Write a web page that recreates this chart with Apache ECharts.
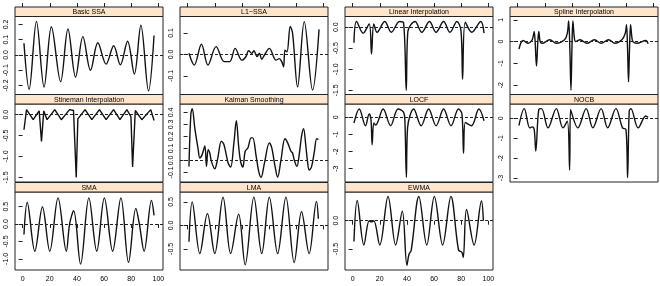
<!DOCTYPE html>
<html>
  <head>
    <meta charset="utf-8">
    <title>imputation panels</title>
    <script src="https://cdn.jsdelivr.net/npm/echarts@6/dist/echarts.min.js"></script>
    <style>
      html, body { margin: 0; padding: 0; background: #fff; }
    </style>
  </head>
  <body>
    <div id="chart" style="width: 660px; height: 286px;"></div>
    <script type="text/javascript">
      // panel titles, in lattice as.table order
      var panelNames = [
        'Basic SSA', 'L1\u2212SSA', 'Linear Interpolation', 'Spline Interpolation',
        'Stineman Interpolation', 'Kalman Smoothing', 'LOCF', 'NOCB',
        'SMA', 'LMA', 'EWMA'
      ];

      // values, [x, y]
      var basicSSA = [[1,0.077],[4.8,-0.225],[10.2,0.22],[15.8,-0.21],[21.2,0.185],[28,-0.175],[33.4,0.17],[39,-0.145],[44.4,0.12],[50,-0.1],[55.4,0.08],[61.5,-0.06],[67.1,0.06],[72,-0.065],[77.3,0.09],[82.3,-0.125],[87.1,0.195],[92.7,-0.235],[96.8,0.128]];
      var l1SSA = [[1,0.005],[4.9,-0.05],[10.2,0.047],[15,-0.05],[21,0.036],[27,-0.034],[31,-0.034],[35,0.028],[40,-0.027],[43,-0.01],[44.9,0.017],[47.3,0.005],[48.8,0.017],[51.2,-0.01],[52.9,0.005],[54.6,-0.023],[56.6,-0.003],[60.2,0.028],[65.1,-0.027],[67.5,-0.02],[69.3,-0.034],[70.7,-0.058],[71.7,0.02],[73.2,0.012],[75.6,0.13],[77.3,0.1],[81,-0.152],[85.9,0.153],[92,-0.167],[96.8,0.117]];
      var linearInterp = [[1,-0.37],[2.9,0.135],[7.8,-0.14],[12.2,0.08],[13.9,-0.64],[15.6,0.08],[18,-0.12],[23.7,0.135],[28.5,-0.12],[34.6,0.135],[37.5,0.11],[39.5,-1.5],[40.7,-0.1],[46,0.135],[51,-0.12],[56.6,0.135],[61.5,-0.12],[67,0.135],[71.7,-0.12],[76.8,0.135],[79.8,-0.08],[81,-1.24],[83,0.12],[87.8,-0.12],[94.4,0.135],[96.8,-0.14]];
      var splineInterp = [[1,-0.35],[2.5,-0.05],[4,0.05],[7.8,-0.08],[10.5,0.05],[11.5,0.25],[12.2,0.46],[12.9,0.0],[13.9,-1.12],[14.9,0.0],[15.6,0.46],[16.6,0.0],[18,-0.08],[23.7,0.08],[28.5,-0.08],[34.6,0.08],[36.6,0.38],[37.6,0.95],[38.5,-0.38],[39.3,-2.23],[40,-0.38],[40.7,0.95],[41.7,0.23],[42.7,0.0],[46,0.08],[51,-0.08],[56.6,0.08],[61.5,-0.08],[67,0.08],[71.7,-0.08],[76.8,0.08],[79.3,0.38],[80.2,0.77],[81,-0.38],[81.7,-1.85],[82.4,-0.38],[83.2,0.77],[84.1,0.23],[84.9,0.0],[87.8,-0.08],[94.4,0.05],[96.1,-0.1]];
      var stinemanInterp = [[1,-0.36],[2.9,0.12],[7.8,-0.12],[12.2,0.09],[13.9,-0.64],[15.6,0.09],[18,-0.12],[23.7,0.12],[28.5,-0.12],[34.6,0.12],[37.5,0.1],[39.5,-1.5],[40.7,-0.1],[46,0.12],[51,-0.12],[56.6,0.12],[61.5,-0.12],[67,0.12],[71.7,-0.12],[76.8,0.12],[79.8,-0.05],[81,-1.25],[83,0.1],[87.8,-0.12],[94.4,0.12],[96.8,-0.14]];
      var kalmanSmooth = [[1,-0.05],[2.4,0.385],[3.4,0.43],[5.4,0.26],[7.8,0.09],[9,0.02],[10.7,0.048],[12.7,0.12],[13.9,-0.05],[15.1,0.09],[16.3,0.062],[17.6,-0.01],[20,-0.07],[22,0.006],[24.9,0.16],[26.8,0.13],[29.8,-0.02],[31.7,-0.056],[34.1,0.146],[35.9,0.33],[37.6,0.118],[39,-0.008],[40.7,-0.056],[42.4,0.076],[44.4,0.104],[46.8,0.188],[48,0.188],[50.5,0.034],[52.4,-0.093],[54.1,-0.14],[56.6,-0.022],[60.2,0.146],[62,0.104],[64.4,-0.05],[66.3,-0.14],[68.8,0.006],[71.7,0.18],[73.7,0.146],[76.1,0.076],[77.3,0.062],[78.5,0.006],[80.5,-0.05],[82.2,0.048],[83.9,0.2],[85.4,0.264],[87.1,0.118],[88.3,-0.008],[89.5,-0.08],[91.2,-0.056],[93.2,0.062],[95.1,0.18],[96.3,0.174]];
      var locf = [[1,-0.33],[4.9,0.49],[9.5,-0.49],[12.2,0.2],[13.5,-0.1],[14.4,-1.6],[15.6,-0.33],[17,-0.45],[22.5,0.49],[28,-0.49],[33.5,0.49],[37.5,0.3],[38.5,-0.2],[39.6,-3.5],[40.5,-0.6],[45,0.49],[50.5,-0.49],[56,0.49],[61.5,-0.49],[67,0.49],[72.5,-0.49],[78,0.49],[80.5,0.2],[81.7,-2.1],[83,-0.3],[87.5,-0.49],[93,0.49],[96.8,-0.2]];
      var nocb = [[1,-0.36],[4.9,0.49],[9,-0.48],[10.7,-0.43],[12.2,-0.56],[13.4,-1.64],[15.6,0.45],[17.6,0.49],[22.4,-0.48],[28.5,0.49],[33.4,-0.48],[36.6,-0.14],[38.3,-2.6],[39,0.45],[44.4,-0.48],[50.5,0.49],[55.4,-0.48],[61.5,0.49],[66.3,-0.48],[72.4,0.49],[77.3,-0.48],[79.8,-0.56],[81,-2.98],[82.2,0.37],[83.4,0.49],[88.8,-0.48],[94.4,0.12],[96.1,0.05]];
      var sma = [[1,-0.3],[3.4,0.62],[9,-0.78],[14.6,0.49],[20,-0.78],[26.1,0.75],[32.2,-0.78],[34.6,0.0],[37.6,0.38],[42.7,-1.15],[48.8,0.75],[54.6,-0.78],[60.2,0.75],[66.3,-0.78],[72.4,0.75],[78,-1.1],[83.4,0.45],[86,0.0],[89.5,-0.78],[94.9,0.68],[96.8,0.25]];
      var lma = [[1,-0.35],[3.4,0.5],[9,-0.6],[14.6,0.25],[20,-0.6],[26.1,0.6],[31.7,-0.6],[37.6,0.24],[42.4,-0.84],[48.8,0.6],[54.6,-0.6],[60.2,0.6],[66.3,-0.6],[72.4,0.6],[78.5,-0.79],[83.9,0.29],[89.5,-0.6],[94.9,0.51],[96.3,0.14]];
      var ewma = [[1,-0.37],[3.4,0.36],[8.3,-0.43],[12.2,0.0],[13.9,-0.02],[15.6,0.0],[20,-0.43],[26.1,0.43],[31.7,-0.43],[36.6,0.17],[40,-0.79],[41.5,-0.6],[43.2,-0.52],[48.8,0.43],[54.6,-0.43],[60.2,0.43],[66.3,-0.43],[72.4,0.43],[78,-0.52],[80.5,-0.56],[81.5,-0.65],[83.9,0.2],[89.5,-0.43],[94.9,0.35],[96.3,0.0]];

      var panelData = [basicSSA, l1SSA, linearInterp, splineInterp, stinemanInterp, kalmanSmooth, locf, nocb, sma, lma, ewma];
      var panelSmooth = [true, true, true, true, false, true, true, true, true, true, true];

      // axes
      var xTicks = [0, 20, 40, 60, 80, 100];
      var yTicks = [
        [-0.2, -0.1, 0, 0.1, 0.2],
        [-0.1, 0, 0.1],
        [-1.5, -1, -0.5, 0],
        [-2, -1, 0, 1],
        [-1.5, -1, -0.5, 0],
        [-0.1, 0, 0.1, 0.2, 0.3, 0.4],
        [-3, -2, -1, 0],
        [-3, -2, -1, 0],
        [-1, -0.5, 0, 0.5],
        [-0.5, 0, 0.5],
        [-0.5, 0]
      ];
      var yDecimals = [1, 1, 1, 0, 1, 1, 0, 0, 1, 1, 1];
      var yMin = [-0.259, -0.1875, -1.6, -2.43, -1.61, -0.18, -3.78, -3.2, -1.32, -0.95, -0.875];
      var yMax = [0.252, 0.177, 0.255, 1.15, 0.255, 0.47, 0.78, 0.72, 0.92, 0.71, 0.51];
      var xMin = -5.6, xMax = 103.4;

      var colLeft = [15, 180, 345, 510];
      var panelW = 148;
      var stripTop = [7, 94.5, 182.5];
      var stripH = 9.5;
      var plotH = 78;
      var FONT = 'Liberation Sans';

      var chart = echarts.init(document.getElementById('chart'), null, { renderer: 'canvas' });

      var grids = [], xAxes = [], yAxes = [], series = [], graphics = [];

      panelNames.forEach(function (name, i) {
        var col = i % 4, row = Math.floor(i / 4);
        var left = colLeft[col];
        var top = stripTop[row] + stripH;

        grids.push({
          left: left, top: top, width: panelW, height: plotH,
          show: true, borderColor: '#222', borderWidth: 1, backgroundColor: 'transparent'
        });

        var showBottomTicks = row === 2;
        xAxes.push({
          gridIndex: i, type: 'value', min: xMin, max: xMax, position: 'bottom',
          axisLine: { show: false }, splitLine: { show: false },
          axisTick: { show: showBottomTicks, customValues: xTicks, length: 4, lineStyle: { color: '#222' } },
          axisLabel: {
            show: showBottomTicks && col !== 1, customValues: xTicks,
            fontSize: 7, color: '#000', fontFamily: FONT, margin: 6
          }
        });

        yAxes.push({
          gridIndex: i, type: 'value', min: yMin[i], max: yMax[i],
          axisLine: { show: false }, splitLine: { show: false },
          axisTick: { show: true, customValues: yTicks[i], length: 4, lineStyle: { color: '#222' } },
          axisLabel: {
            show: true, customValues: yTicks[i], rotate: 90, fontSize: 7, color: '#000',
            fontFamily: FONT, margin: 5,
            formatter: function (v) { return Number(v).toFixed(yDecimals[i]); }
          }
        });

        series.push({
          type: 'line', xAxisIndex: i, yAxisIndex: i,
          data: panelData[i], showSymbol: false, smooth: panelSmooth[i] ? 0.35 : false,
          lineStyle: { color: '#111', width: 1.4 },
          markLine: {
            silent: true, symbol: 'none', label: { show: false },
            lineStyle: { color: '#222', type: [3, 2], width: 1 },
            data: [{ yAxis: 0 }]
          }
        });

        // strip
        graphics.push({
          type: 'rect', shape: { x: left, y: stripTop[row], width: panelW, height: stripH },
          style: { fill: '#ffe5cc', stroke: '#222', lineWidth: 1 }
        });
        graphics.push({
          type: 'text', x: left + panelW / 2, y: stripTop[row] + stripH / 2 + 0.5,
          style: {
            text: name, fill: '#000', font: '7px ' + FONT,
            textAlign: 'center', textVerticalAlign: 'middle'
          }
        });
      });

      // tick marks above the top row strips
      for (var c = 0; c < 4; c++) {
        xAxes.push({
          gridIndex: c, type: 'value', min: xMin, max: xMax, position: 'top', offset: stripH,
          axisLine: { show: false }, splitLine: { show: false },
          axisTick: { show: true, customValues: xTicks, length: 4, lineStyle: { color: '#222' } },
          axisLabel: { show: false }
        });
      }

      chart.setOption({
        animation: false,
        backgroundColor: '#fff',
        grid: grids,
        xAxis: xAxes,
        yAxis: yAxes,
        series: series,
        graphic: graphics
      });
    </script>
  </body>
</html>
